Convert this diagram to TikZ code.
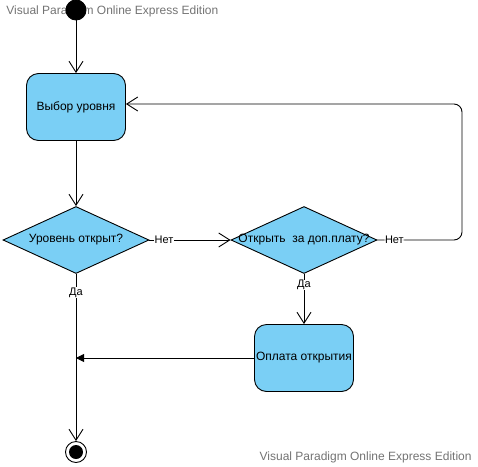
\documentclass[tikz,border=0pt]{standalone}
\usepackage{fontspec}
\setmainfont{Liberation Sans}
\usetikzlibrary{shapes.geometric,arrows.meta}
\definecolor{vpblue}{RGB}{122,207,245}
\tikzset{
	act/.style={draw, fill=vpblue, rounded corners=12pt, minimum width=99pt, minimum height=67pt, inner sep=0pt, font=\fontsize{12}{14}\selectfont},
	dec/.style={draw, fill=vpblue, diamond, minimum width=146pt, minimum height=67pt, inner sep=0pt, label={[font=\fontsize{12}{14}\selectfont]center:#1}},
	flow/.style={-{Straight Barb[length=11pt,width=14pt]}},
	lbl/.style={fill=white, inner sep=0.5pt, font=\fontsize{11}{12}\selectfont},
	wm/.style={text=black!55, inner sep=0pt, font=\fontsize{12}{14}\selectfont}
}
\begin{document}
\begin{tikzpicture}[x=1pt, y=-1pt, line width=0.9pt]
	\useasboundingbox (0,0) rectangle (478,466);

	\node[wm, anchor=west] (w1) at (6,11) {Visual Paradigm Online Express Edition};
	\node[wm, anchor=east] (w2) at (472,457) {Visual Paradigm Online Express Edition};

	\node[draw, circle, fill=black, minimum size=20pt, inner sep=0pt] (s) at (76,10) {};
	\node[act] (b1) at (76,107) {Выбор уровня};
	\node[dec={Уровень открыт?}] (d1) at (76,240) {};
	\node[dec={Открыть~~за доп.плату?}] (d2) at (304,240) {};
	\node[act] (b2) at (304,358) {Оплата открытия};
	\node[draw, circle, minimum size=21pt, inner sep=0pt] (f) at (76,452) {};
	\fill (f) circle [radius=7];

	\coordinate (c1) at (462,240);
	\coordinate (c2) at (462,104);
	\coordinate (j) at (d1 |- b2.west);

	\draw[flow] (s) -- (b1);
	\draw[flow] (b1) -- (d1);
	\draw[flow] (d1) -- node[lbl, pos=0.18] {Нет} (d2);
	\draw[flow, rounded corners=8pt] (d2.east) -- node[lbl, pos=0.2] {Нет} (c1) -- (c2) -- ([yshift=3pt]b1.east);
	\draw[flow] (d2) -- node[lbl, pos=0.22] {Да} (b2);
	\draw[flow] (d1) -- node[lbl, pos=0.11] {Да} (f);
	\draw[-{Triangle[length=8pt,width=8pt]}] (b2) -- (j);
\end{tikzpicture}
\end{document}
